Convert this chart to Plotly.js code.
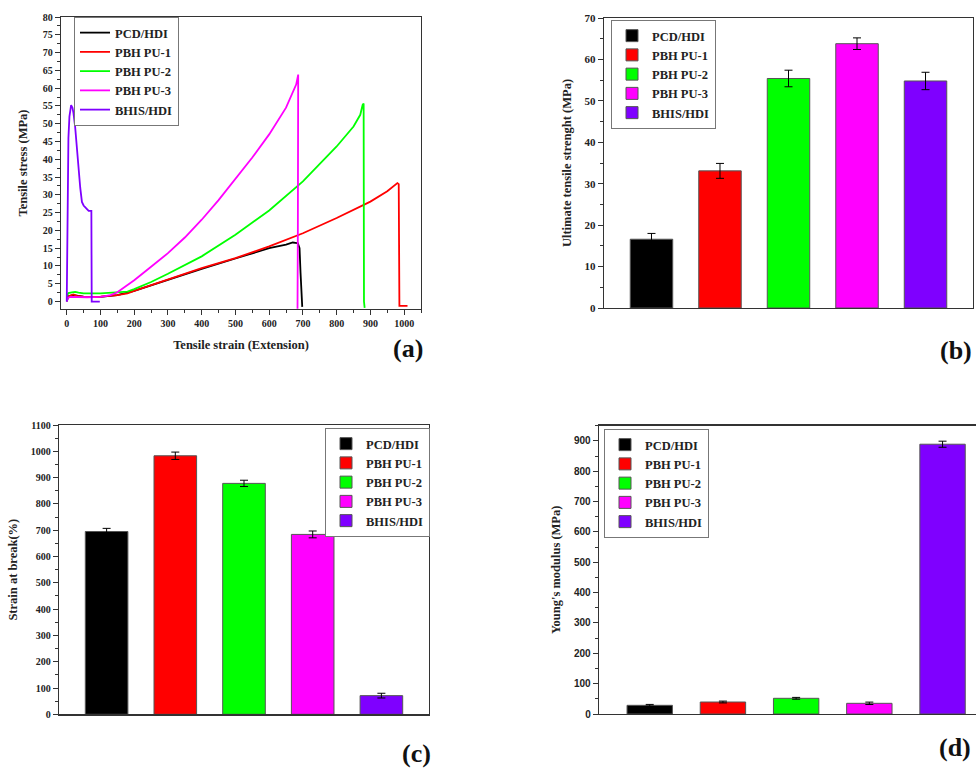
<!DOCTYPE html>
<html>
<head>
<meta charset="utf-8">
<script src="https://cdn.plot.ly/plotly-3.0.1.min.js"></script>
<style>html,body{margin:0;padding:0;background:#fff;}#chart{width:976px;height:769px;}</style>
</head>
<body>
<div id="chart"></div>
<script>
// ---------- DATA ----------
const seriesNames = ["PCD/HDI", "PBH PU-1", "PBH PU-2", "PBH PU-3", "BHIS/HDI"];
const seriesColors = ["#000000", "#ff0000", "#00ff00", "#ff00ff", "#7f00ff"];

// (a) stress-strain curves
const pcdStrain = [0, 5, 20, 50, 100, 150, 200, 300, 400, 500, 550, 600, 650, 670, 685, 690, 693, 696, 698];
const pcdStress = [0, 1.5, 1.8, 1.4, 1.3, 1.8, 3.0, 6.2, 9.2, 12.1, 13.6, 15.0, 16.0, 16.6, 16.4, 15.0, 8.0, 0, -1.5];

const pu1Strain = [0, 5, 10, 20, 30, 50, 100, 150, 180, 200, 250, 300, 400, 500, 600, 700, 800, 900, 950, 980, 984, 986, 1010];
const pu1Stress = [0.8, 1.4, 1.7, 2.0, 1.6, 1.3, 1.4, 1.8, 2.3, 3.0, 4.6, 6.3, 9.4, 12.2, 15.5, 19.2, 23.5, 28.1, 31.0, 33.3, 33.0, -1.2, -1.2];

const pu2Strain = [0, 5, 15, 25, 35, 50, 100, 150, 180, 200, 250, 300, 400, 500, 600, 700, 800, 850, 870, 877, 880, 881, 883];
const pu2Stress = [1.5, 2.4, 2.6, 2.7, 2.5, 2.3, 2.3, 2.5, 2.8, 3.5, 5.5, 7.8, 12.7, 18.8, 25.6, 33.8, 43.6, 49.2, 52.5, 55.3, 55.7, 0, -1.8];

const pu3Strain = [0, 3, 10, 30, 60, 100, 130, 150, 200, 250, 300, 350, 400, 450, 500, 550, 600, 650, 680, 686, 685, 684];
const pu3Stress = [0, 1.0, 1.3, 1.2, 1.2, 1.3, 1.8, 2.6, 6.0, 9.8, 13.6, 18.0, 23.0, 28.5, 34.5, 40.5, 47.0, 54.5, 61.0, 63.8, 20.0, -2.0];

const bhisStrain = [0, 1, 2, 3, 4, 5, 8, 13, 17, 20, 25, 30, 35, 40, 45, 50, 60, 65, 73, 74, 98];
const bhisStress = [0, 10, 24, 30, 40, 46, 52, 55.2, 54.5, 53, 49, 43, 38, 32, 28, 27, 26, 25.5, 25.5, 0, 0];

// (b) ultimate tensile strength (MPa)
const utsValues = [16.6, 33.1, 55.4, 63.8, 54.8];
const utsErrors = [1.4, 1.8, 2.0, 1.4, 2.1];
// (c) strain at break (%)
const strainValues = [695, 983, 878, 684, 71];
const strainErrors = [12, 14, 12, 13, 9];
// (d) Young's modulus (MPa)
const modulusValues = [28.6, 39.5, 51.7, 35.2, 889];
const modulusErrors = [3, 3, 3, 4, 10];

// ---------- STYLE ----------
const SERIF = "Liberation Serif, Times New Roman, serif";
const SANS = "Liberation Sans, Arial, sans-serif";
const axisColor = "#333";

const curves = [
  [pcdStrain, pcdStress], [pu1Strain, pu1Stress], [pu2Strain, pu2Stress],
  [pu3Strain, pu3Stress], [bhisStrain, bhisStress]
];

const traces = [];
curves.forEach((c, i) => {
  traces.push({
    type: "scatter", mode: "lines", x: c[0], y: c[1],
    name: seriesNames[i], line: {color: seriesColors[i], width: 1.8},
    xaxis: "x", yaxis: "y", legend: "legend", hoverinfo: "skip"
  });
});

function addBars(values, errors, ax, legendName) {
  values.forEach((v, i) => {
    traces.push({
      type: "bar", x: [seriesNames[i]], y: [v], name: seriesNames[i],
      width: 0.62,
      marker: {color: seriesColors[i], line: {color: "#555", width: 1}},
      error_y: {type: "data", array: [errors[i]], color: "#000", thickness: 1, width: 4},
      xaxis: "x" + ax, yaxis: "y" + ax, legend: legendName, hoverinfo: "skip"
    });
  });
}
addBars(utsValues, utsErrors, 2, "legend2");
addBars(strainValues, strainErrors, 3, "legend3");
addBars(modulusValues, modulusErrors, 4, "legend4");

const W = 976, H = 769;
const px = v => v / W;
const py = v => 1 - v / H;

function baseAxis(extra) {
  return Object.assign({
    showline: true, linecolor: axisColor, linewidth: 1.3, mirror: true,
    showgrid: false, zeroline: false, ticks: "outside", ticklen: 5, tickwidth: 1,
    tickcolor: axisColor,
    tickfont: {family: SERIF, size: 10, color: "#222", weight: "bold"}
  }, extra);
}
const titleFont = {family: SERIF, size: 12.5, color: "#222", weight: "bold"};
const catAxis = (dom, anchor, range, mirror) => ({
  domain: dom, anchor: anchor, type: "category", categoryorder: "array", categoryarray: seriesNames,
  range: range, showticklabels: false, ticks: "", showline: true, linecolor: axisColor,
  linewidth: 1.3, mirror: mirror, showgrid: false, zeroline: false, fixedrange: true
});

const legendStyle = (x, y) => ({
  x: x, y: y, xanchor: "left", yanchor: "top", bgcolor: "#fff",
  bordercolor: "#777", borderwidth: 1,
  font: {family: SERIF, size: 12.5, color: "#222", weight: "bold"},
  tracegroupgap: 0, itemwidth: 30
});

const layout = {
  width: W, height: H, margin: {l: 0, r: 0, t: 0, b: 0},
  paper_bgcolor: "#fff", plot_bgcolor: "#fff",
  barmode: "overlay", showlegend: true,
  xaxis: baseAxis({
    domain: [px(61), px(421)], anchor: "y", range: [-17, 1050], dtick: 100, tick0: 0,
    minor: {dtick: 50, ticklen: 3, ticks: "outside", tickcolor: axisColor},
    title: {text: "Tensile strain (Extension)", font: titleFont, standoff: 12}
  }),
  yaxis: baseAxis({
    domain: [py(309), py(17)], anchor: "x", range: [-2.1, 80], dtick: 5, tick0: 0,
    minor: {dtick: 2.5, ticklen: 3, ticks: "outside", tickcolor: axisColor},
    title: {text: "Tensile stress (MPa)", font: titleFont, standoff: 12}
  }),
  xaxis2: catAxis([px(604), px(973)], "y2", [-0.693, 4.693], true),
  yaxis2: baseAxis({
    domain: [py(308), py(18)], anchor: "x2", range: [0, 70], dtick: 10,
    tickfont: {family: SERIF, size: 11, color: "#222", weight: "bold"},
    minor: {dtick: 5, ticklen: 3, ticks: "outside", tickcolor: axisColor},
    title: {text: "Ultimate tensile strenght (MPa)", font: titleFont, standoff: 10}
  }),
  xaxis3: catAxis([px(59), px(429)], "y3", [-0.693, 4.693], true),
  yaxis3: baseAxis({
    domain: [py(714.3), py(425)], anchor: "x3", range: [0, 1100], dtick: 100,
    minor: {dtick: 50, ticklen: 3, ticks: "outside", tickcolor: axisColor},
    title: {text: "Strain at break(%)", font: titleFont, standoff: 10}
  }),
  xaxis4: catAxis([px(599), 1], "y4", [-0.693, 4.457], true),
  yaxis4: baseAxis({
    domain: [py(714), py(425.7)], anchor: "x4", range: [0, 950], dtick: 100, mirror: false,
    tickfont: {family: SANS, size: 10, color: "#222", weight: "bold"},
    minor: {dtick: 50, ticklen: 3, ticks: "outside", tickcolor: axisColor},
    title: {text: "Young's modulus (MPa)", font: titleFont, standoff: 10}
  }),
  legend: legendStyle(px(74), py(17)),
  legend2: legendStyle(px(611), py(20)),
  legend3: legendStyle(px(325), py(428)),
  legend4: legendStyle(px(604), py(429)),
  annotations: [
    ["(a)", 408, 348], ["(b)", 956, 350], ["(c)", 416, 753], ["(d)", 955, 747]
  ].map(a => ({
    text: a[0], xref: "paper", yref: "paper", x: px(a[1]), y: py(a[2]),
    xanchor: "center", yanchor: "middle", showarrow: false,
    font: {family: SERIF, size: 26, color: "#111", weight: "bold"}
  }))
};

Plotly.newPlot("chart", traces, layout, {staticPlot: true, displayModeBar: false});
</script>
</body>
</html>
